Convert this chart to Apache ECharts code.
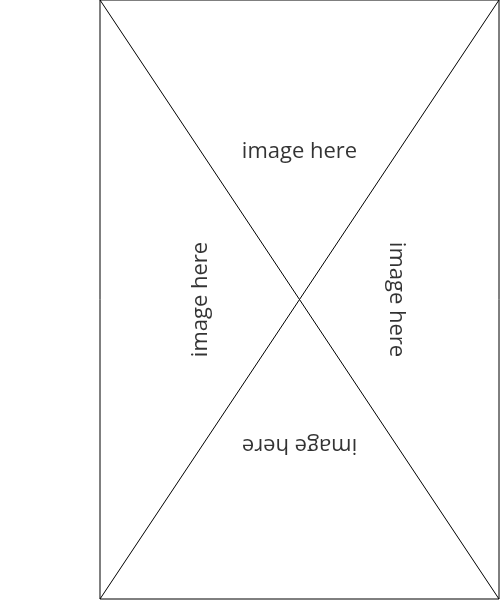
<!DOCTYPE html>
<html>
<head>
<meta charset="utf-8">
<script src="https://cdn.jsdelivr.net/npm/echarts@6/dist/echarts.min.js"></script>
<style>
html, body { margin: 0; padding: 0; background: #fff; }
#main { width: 500px; height: 600px; }
</style>
</head>
<body>
<div id="main"></div>
<script>
// placeholder frame: two diagonals across a unit box
var diagDown = [[0, 1], [1, 0]];
var diagUp = [[0, 0], [1, 1]];

// caption text, where it sits in the box and how it is turned
var captionText = 'image here';
var captionPoints = [[0.5, 0.746], [0.253, 0.5], [0.743, 0.5], [0.5, 0.256]];
var captionTurn = [0, 90, -90, 180];

var captionData = [];
for (var i = 0; i < captionPoints.length; i++) {
	captionData.push({
		value: captionPoints[i],
		label: { rotate: captionTurn[i] }
	});
}

var opt = {
	animation: false,
	grid: {
		show: true,
		left: 100,
		top: 0,
		width: 399,
		height: 599,
		borderColor: '#000',
		borderWidth: 1,
		backgroundColor: '#fff'
	},
	xAxis: {
		type: 'value', min: 0, max: 1,
		axisLine: { show: false }, axisTick: { show: false },
		axisLabel: { show: false }, splitLine: { show: false }
	},
	yAxis: {
		type: 'value', min: 0, max: 1,
		axisLine: { show: false }, axisTick: { show: false },
		axisLabel: { show: false }, splitLine: { show: false }
	},
	series: [
		{
			type: 'line', data: diagDown, symbol: 'none', silent: true,
			lineStyle: { color: '#000', width: 1 }
		},
		{
			type: 'line', data: diagUp, symbol: 'none', silent: true,
			lineStyle: { color: '#000', width: 1 }
		},
		{
			type: 'scatter', data: captionData, symbolSize: 0, silent: true,
			label: {
				show: true,
				position: 'inside',
				formatter: captionText,
				fontFamily: 'Open Sans',
				fontSize: 22,
				color: '#000'
			}
		}
	]
};

var chart = echarts.init(document.getElementById('main'));
chart.setOption(opt);
</script>
</body>
</html>
